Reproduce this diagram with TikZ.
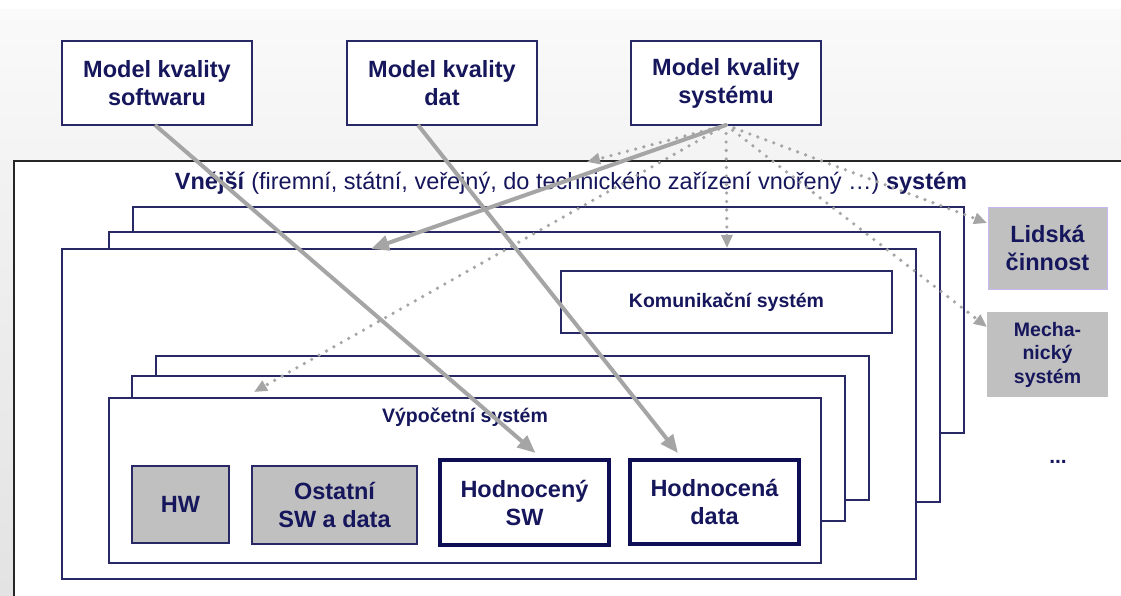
\documentclass[tikz,border=0pt]{standalone}
\usepackage{fontspec}
\setmainfont{Liberation Sans}
\usetikzlibrary{arrows.meta,calc}
\definecolor{navy}{RGB}{22,22,92}
\definecolor{bordc}{RGB}{40,40,100}
\definecolor{thickc}{RGB}{14,14,84}
\definecolor{arrg}{RGB}{165,165,165}
\definecolor{boxgray}{RGB}{192,192,192}
\definecolor{lilac}{RGB}{200,182,240}
\begin{document}
\begin{tikzpicture}[x=1pt,y=-1pt,
  lay/.style={draw=bordc, fill=white, line width=1.2pt, anchor=north west, inner sep=0pt, outer sep=0pt},
  big/.style={font=\fontsize{23.5}{28}\selectfont\bfseries, text=navy, align=center},
  small/.style={font=\fontsize{19.5}{23.5}\selectfont\bfseries, text=navy, align=center},
  topbox/.style={lay, big},
  graybox/.style={lay, big, fill=boxgray},
  evalbox/.style={lay, big, draw=thickc, line width=3.2pt},
  sidebox/.style={lay, fill=boxgray, draw=boxgray},
  solidarr/.style={draw=arrg, line width=4pt, -{Triangle[length=18pt,width=15pt]}},
  dotarr/.style={draw=arrg, line width=3.6pt, line cap=round, dash pattern=on 0pt off 8.5pt, -{Triangle[length=13pt,width=11pt]}}
]
\useasboundingbox (0,0) rectangle (1121,596);
\clip (0,0) rectangle (1121,596);
% background
\fill[white] (0,0) rectangle (1121,596);
\shade[top color=gray!4, bottom color=gray!9] (0,10) rectangle (1121,161);
\shade[top color=gray!10, bottom color=gray!22] (0,161) rectangle (14,596);
% outer system
\node[lay, draw=black!85, line width=1.5pt, minimum width=1130pt, minimum height=460pt] (outer) at (14,161) {};
\node[font=\fontsize{23.5}{28}\selectfont, text=navy] (vtitle) at (571,183)
  {\textbf{Vnější} (firemní, státní, veřejný, do technického zařízení vnořený …) \textbf{systém}};
% layered systems
\node[lay, minimum width=831pt, minimum height=226pt] (A) at (133,207) {};
\node[lay, minimum width=831pt, minimum height=270pt] (B) at (109,232) {};
\node[lay, minimum width=854pt, minimum height=330pt] (C) at (62,249) {};
\node[lay, small, minimum width=331pt, minimum height=62pt] (kom) at (561,271) {Komunikační systém};
\node[lay, minimum width=713pt, minimum height=144pt] (D) at (156,356) {};
\node[lay, minimum width=713pt, minimum height=145pt] (E) at (132,376) {};
\node[lay, minimum width=712pt, minimum height=165pt] (F) at (109,398) {};
\node[small] (vyp) at (465,417) {Výpočetní systém};
\node[graybox, minimum width=97pt, minimum height=77pt] (hw) at (132,466) {HW};
\node[graybox, minimum width=165pt, minimum height=78pt] (ost) at (252,466) {Ostatní\\SW a data};
\node[evalbox, minimum width=169pt, minimum height=85pt] (hsw) at (440,460) {Hodnocený\\SW};
\node[evalbox, minimum width=169pt, minimum height=84pt] (hsd) at (630,460) {Hodnocená\\data};
% side boxes
\node[sidebox, big, draw=lilac, line width=1pt, minimum width=119pt, minimum height=82pt] (lid) at (988,207) {Lidská\\činnost};
\node[sidebox, small, minimum width=119pt, minimum height=83pt] (mech) at (988,313) {Mecha-\\nický\\systém};
\node[font=\fontsize{21}{24}\selectfont\bfseries, text=navy] (dots) at (1058,462) {...};
% quality models
\node[topbox, minimum width=190pt, minimum height=84pt] (sw) at (62,41) {Model kvality\\softwaru};
\node[topbox, minimum width=190pt, minimum height=84pt] (dat) at (347,41) {Model kvality\\dat};
\node[topbox, minimum width=190pt, minimum height=84pt] (sys) at (631,41) {Model kvality\\systému};
% connectors
\draw[solidarr] ($(sw.south)+(-2,0)$) -- ($(hsw.north)+(11,-7)$);
\draw[solidarr] ($(dat.south)+(-24,0)$) -- ($(hsd.north)+(-36.5,-7)$);
\draw[solidarr] (sys.south) -- ($(C.north west)+(309,0)$);
\draw[dotarr] (sys.south) -- ($(outer.north west)+(573,1)$);
\draw[dotarr] (sys.south) -- ($(C.north west)+(665,-1)$);
\draw[dotarr] (sys.south) -- ($(F.north west)+(145,-6)$);
\draw[dotarr] (sys.south) -- ($(lid.north west)+(-1,16)$);
\draw[dotarr] (sys.south) -- ($(mech.north west)+(-1,14)$);
\end{tikzpicture}
\end{document}
